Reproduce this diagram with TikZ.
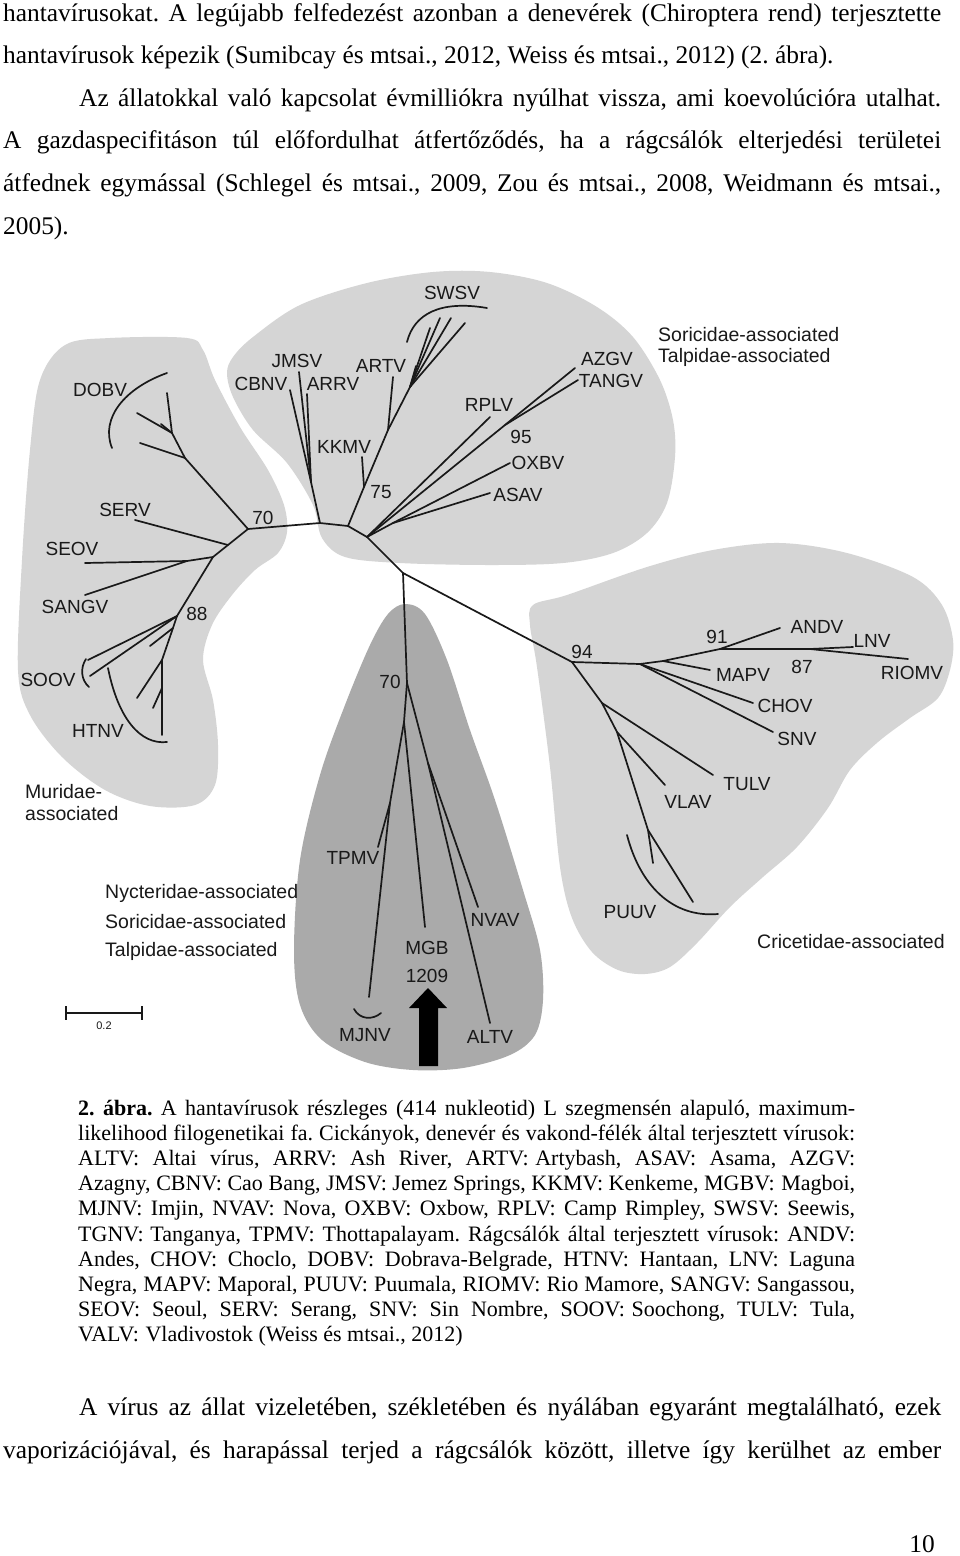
\documentclass[tikz,border=0pt]{standalone}
\usepackage{fontspec}
\setmainfont{Liberation Serif}
\newfontfamily\labfam{Liberation Sans}
\frenchspacing
\definecolor{lgray}{RGB}{213,213,213}
\definecolor{dgray}{RGB}{170,170,170}
\definecolor{ink}{RGB}{25,25,25}
\newcommand\bodyf{\fontsize{25.4}{28}\selectfont}
\newcommand\capf{\fontsize{22}{25}\selectfont}
\newcommand\labf{\labfam\fontsize{19}{21}\selectfont}
\newcommand\grpf{\labfam\fontsize{19.5}{21}\selectfont}
\newcommand\fixsp{\hbox to 0.3em{}}
\tikzset{
  br/.style={line width=1.7pt, line cap=round, line join=round, ink},
  lab/.style={font=\labf, inner sep=0pt, text=ink},
  grp/.style={font=\grpf, inner sep=0pt, text=ink, anchor=west},
  bodyline/.style={font=\bodyf, inner sep=0pt, anchor=base west},
  capline/.style={font=\capf, inner sep=0pt, anchor=base west},
}
\begin{document}
\begin{tikzpicture}[x=1pt,y=-1pt]
\fill[white] (0,0) rectangle (960,1556);
\useasboundingbox (0,0) rectangle (960,1556);

% ---------------- body text (top) ----------------
\node[bodyline] (p1) at (3,21) {\makebox[938pt][s]{hantavírusokat. A legújabb felfedezést azonban a denevérek (Chiroptera rend) terjesztette}};
\node[bodyline] (p2) at (3,63.6) {hantavírusok képezik (Sumibcay és mtsai., 2012, Weiss és mtsai., 2012) (2. ábra).};
\node[bodyline] (p3) at (79,106.2) {\makebox[862pt][s]{Az állatokkal való kapcsolat évmilliókra nyúlhat vissza, ami koevolúcióra utalhat.}};
\node[bodyline] (p4) at (3,148.8) {\makebox[938pt][s]{A gazdaspecifitáson túl előfordulhat átfertőződés, ha a rágcsálók elterjedési területei}};
\node[bodyline] (p5) at (3,191.4) {\makebox[938pt][s]{átfednek egymással (Schlegel és mtsai., 2009, Zou és mtsai., 2008, Weidmann és mtsai.,}};
\node[bodyline] (p6) at (3,234) {2005).};

% ---------------- shaded regions ----------------
\fill[lgray] plot[smooth cycle, tension=0.55] coordinates {
 (40,380) (65,345) (110,338) (187,338) (203,350) (215,380) (240,427) (268,470)
 (284,505) (287,532) (278,553) (255,570) (232,595) (212,625) (203,660) (213,700)
 (218,745) (215,785) (195,805) (150,806) (105,790) (62,757) (30,715) (18,670)
 (22,560) (30,450)};
\fill[lgray] plot[smooth cycle, tension=0.55] coordinates {
 (233,357) (253,337) (300,305) (367,283) (433,272) (490,272) (547,283) (597,307)
 (633,337) (660,380) (673,420) (675,457) (667,503) (647,533) (613,553) (563,563)
 (490,565) (400,563) (345,557) (322,538) (313,505) (287,463) (253,430) (233,397)
 (227,373)};
\fill[lgray] plot[smooth cycle, tension=0.55] coordinates {
 (533,605) (567,595) (647,567) (713,550) (780,543) (847,553) (913,577) (942,605)
 (953,640) (950,670) (938,698) (910,718) (878,742) (850,770) (828,808) (797,847)
 (763,877) (730,907) (697,943) (670,967) (645,974) (618,970) (592,952) (572,918)
 (560,867) (550,767) (537,667) (530,625)};
\fill[dgray] plot[smooth cycle, tension=0.55] coordinates {
 (405,604) (425,614) (447,660) (470,730) (495,800) (523,890) (540,950) (543,1000)
 (535,1035) (510,1055) (463,1068) (413,1070) (365,1062) (322,1040) (300,1005)
 (294,950) (300,860) (320,775) (345,705) (370,645) (388,614)};

% ---------------- tree: coordinates ----------------
\coordinate (n70a) at (248,529);
\coordinate (nJ) at (320,523);
\coordinate (nK) at (348,526);
\coordinate (nL) at (367,537);
\coordinate (nM) at (403,573);
\coordinate (nBA) at (407,683);
\coordinate (n94) at (572,662);
% Muridae
\coordinate (m1) at (185,458);
\coordinate (m2) at (172,433);
\coordinate (d1) at (140,443);
\coordinate (d2) at (137,413);
\coordinate (d3) at (167,393);
\coordinate (d4) at (161,424);
\coordinate (m3) at (228,545);
\coordinate (serv) at (135,520);
\coordinate (m4) at (213,557);
\coordinate (m5) at (187,561);
\coordinate (seov) at (85,563);
\coordinate (sangv) at (85,595);
\coordinate (m88) at (177,616);
\coordinate (soo1) at (88,660);
\coordinate (soo2) at (90,676);
\coordinate (h0) at (173,628);
\coordinate (st) at (150,646);
\coordinate (h1) at (162,660);
\coordinate (h3) at (162,688);
\coordinate (h2) at (162,735);
\coordinate (ht1) at (137,698);
\coordinate (ht2) at (153,708);
% Soricidae / Talpidae
\coordinate (jt) at (311,482);
\coordinate (cbnv) at (290,390);
\coordinate (jmsv) at (299,372);
\coordinate (arrv) at (307,394);
\coordinate (k75) at (364,487);
\coordinate (kkmv) at (362,457);
\coordinate (ka) at (388,430);
\coordinate (artv) at (393,377);
\coordinate (ks) at (410,387);
\coordinate (sw0) at (416,366);
\coordinate (sw1) at (430,328);
\coordinate (sw2) at (440,318);
\coordinate (sw3) at (451,318);
\coordinate (sw4) at (465,323);
\coordinate (rplv) at (490,417);
\coordinate (a95) at (505,425);
\coordinate (azgv) at (575,368);
\coordinate (tangv) at (578,380);
\coordinate (ox1) at (393,523);
\coordinate (oxbv) at (510,463);
\coordinate (asav) at (490,493);
% bats
\coordinate (nBB) at (404,722);
\coordinate (tp) at (390,803);
\coordinate (tpmv) at (378,847);
\coordinate (mjnv) at (369,997);
\coordinate (mgb) at (425,927);
\coordinate (nv) at (428,763);
\coordinate (nvav) at (478,907);
\coordinate (altv) at (490,1023);
% Cricetidae
\coordinate (c1) at (640,664);
\coordinate (c2) at (663,661);
\coordinate (c91) at (720,649);
\coordinate (andv) at (780,628);
\coordinate (c87) at (810,649);
\coordinate (lnv) at (853,647);
\coordinate (riomv) at (908,659);
\coordinate (mapv) at (710,670);
\coordinate (chov) at (753,703);
\coordinate (snv) at (773,732);
\coordinate (t1) at (602,703);
\coordinate (tulv) at (713,775);
\coordinate (t2) at (617,732);
\coordinate (vlav) at (665,785);
\coordinate (t3) at (648,830);
\coordinate (puu1) at (653,863);
\coordinate (puu2) at (693,902);

% ---------------- tree: branches ----------------
\draw[br] (n70a) -- (nJ) -- (nK) -- (nL) -- (nM) -- (n94);
\draw[br] (nM) -- (nBA);
% Muridae
\draw[br] (n70a) -- (m1) -- (m2) -- (d3);
\draw[br] (m1) -- (d1);
\draw[br] (m2) -- (d2);
\draw[br] (m2) -- (d4);
\draw[br] (n70a) -- (m3) -- (m4) -- (m88);
\draw[br] (m3) -- (serv);
\draw[br] (m4) -- (m5) -- (seov);
\draw[br] (m5) -- (sangv);
\draw[br] (m88) -- (soo1);
\draw[br] (m88) -- (soo2);
\draw[br] (m88) -- (h0) -- (h1) -- (h3) -- (h2);
\draw[br] (h0) -- (st);
\draw[br] (h1) -- (ht1);
\draw[br] (h3) -- (ht2);
\draw[br] (112,448) .. controls (100,418) and (125,388) .. (167,373);
\draw[br] (86,659) .. controls (80,668) and (81,680) .. (89,687);
\draw[br] (108,668) .. controls (118,718) and (140,745) .. (167,742);
% Soricidae / Talpidae
\draw[br] (nJ) -- (jt) -- (cbnv);
\draw[br] (jt) -- (jmsv);
\draw[br] (jt) -- (arrv);
\draw[br] (nK) -- (k75) -- (ka) -- (ks);
\draw[br] (k75) -- (kkmv);
\draw[br] (ka) -- (artv);
\draw[br] (ks) -- (sw0);
\draw[br] (ks) -- (sw1);
\draw[br] (ks) -- (sw2);
\draw[br] (ks) -- (sw3);
\draw[br] (ks) -- (sw4);
\draw[br] (407,342) .. controls (414,314) and (440,300) .. (487,308);
\draw[br] (nL) -- (rplv);
\draw[br] (nL) -- (a95) -- (azgv);
\draw[br] (a95) -- (tangv);
\draw[br] (nL) -- (ox1) -- (oxbv);
\draw[br] (ox1) -- (asav);
% bats
\draw[br] (nBA) -- (nBB) -- (tp) -- (tpmv);
\draw[br] (tp) -- (mjnv);
\draw[br] (nBB) -- (mgb);
\draw[br] (nBA) -- (nv) -- (nvav);
\draw[br] (nv) -- (altv);
\draw[br] (354,1009) .. controls (360,1020) and (373,1020) .. (381,1013);
% Cricetidae
\draw[br] (n94) -- (c1) -- (c2) -- (c91) -- (c87) -- (lnv);
\draw[br] (c87) -- (riomv);
\draw[br] (c91) -- (andv);
\draw[br] (c2) -- (mapv);
\draw[br] (c1) -- (chov);
\draw[br] (c1) -- (snv);
\draw[br] (n94) -- (t1) -- (t2) -- (t3) -- (puu1);
\draw[br] (t3) -- (puu2);
\draw[br] (t1) -- (tulv);
\draw[br] (t2) -- (vlav);
\draw[br] (627,835) .. controls (640,885) and (672,918) .. (718,914);

% arrow
\fill[black] (428,988) -- (447,1008) -- (438,1008) -- (438,1066) -- (419,1066) -- (419,1008) -- (409,1008) -- cycle;

% scale bar
\coordinate (sb1) at (66,1013);
\coordinate (sb2) at (142,1013);
\draw[line width=1.5pt, ink] (sb1) -- (sb2);
\draw[line width=1.5pt, ink] (66,1006) -- (66,1020);
\draw[line width=1.5pt, ink] (142,1006) -- (142,1020);
\node[inner sep=0pt, font=\labfam\fontsize{11}{12}\selectfont, text=ink] (sbl) at (104,1026) {0.2};

% ---------------- labels ----------------
\node[lab] (lDOBV) at (100,390) {DOBV};
\node[lab] (lSERV) at (125,510) {SERV};
\node[lab] (lSEOV) at (72,549) {SEOV};
\node[lab] (lSANGV) at (75,607) {SANGV};
\node[lab] (l88) at (197,614) {88};
\node[lab] (l70a) at (263,518) {70};
\node[lab] (lSOOV) at (48,680) {SOOV};
\node[lab] (lHTNV) at (98,731) {HTNV};
\node[lab] (lJMSV) at (297,361) {JMSV};
\node[lab] (lCBNV) at (261,384) {CBNV};
\node[lab] (lARRV) at (333,384) {ARRV};
\node[lab] (lARTV) at (381,366) {ARTV};
\node[lab] (lKKMV) at (344,447) {KKMV};
\node[lab] (l75) at (381,492) {75};
\node[lab] (lSWSV) at (452,293) {SWSV};
\node[lab] (lRPLV) at (489,405) {RPLV};
\node[lab] (lAZGV) at (607,359) {AZGV};
\node[lab] (lTANGV) at (611,381) {TANGV};
\node[lab] (l95) at (521,437) {95};
\node[lab] (lOXBV) at (538,463) {OXBV};
\node[lab] (lASAV) at (518,495) {ASAV};
\node[lab] (l70b) at (390,682) {70};
\node[lab] (lTPMV) at (353,858) {TPMV};
\node[lab] (lMJNV) at (365,1035) {MJNV};
\node[lab] (lMGB) at (427,948) {MGB};
\node[lab] (l1209) at (427,976) {1209};
\node[lab] (lNVAV) at (495,920) {NVAV};
\node[lab] (lALTV) at (490,1037) {ALTV};
\node[lab] (l94) at (582,652) {94};
\node[lab] (l91) at (717,637) {91};
\node[lab] (lANDV) at (817,627) {ANDV};
\node[lab] (lLNV) at (872,641) {LNV};
\node[lab] (l87) at (802,667) {87};
\node[lab] (lRIOMV) at (912,673) {RIOMV};
\node[lab] (lMAPV) at (743,675) {MAPV};
\node[lab] (lCHOV) at (785,706) {CHOV};
\node[lab] (lSNV) at (797,739) {SNV};
\node[lab] (lTULV) at (747,784) {TULV};
\node[lab] (lVLAV) at (688,802) {VLAV};
\node[lab] (lPUUV) at (630,912) {PUUV};

\node[grp] (g1) at (658,335) {Soricidae-associated};
\node[grp] (g2) at (658,357) {Talpidae-associated};
\node[grp] (g3) at (25,792) {Muridae-};
\node[grp] (g4) at (25,814) {associated};
\node[grp] (g5) at (105,893) {Nycteridae-associated};
\node[grp] (g6) at (105,922) {Soricidae-associated};
\node[grp] (g7) at (105,951) {Talpidae-associated};
\node[grp] (g8) at (757,942) {Cricetidae-associated};

% ---------------- caption ----------------
\node[capline] (c01) at (78,1115) {\makebox[777pt][s]{\textbf{2. ábra.} A hantavírusok részleges (414 nukleotid) L szegmensén alapuló, maximum-}};
\node[capline] (c02) at (78,1140.2) {\makebox[777pt][s]{likelihood filogenetikai fa. Cickányok, denevér és vakond-félék által terjesztett vírusok:}};
\node[capline] (c03) at (78,1165.4) {\makebox[777pt][s]{ALTV: Altai vírus, ARRV: Ash River, ARTV:\fixsp Artybash, ASAV: Asama, AZGV:}};
\node[capline] (c04) at (78,1190.6) {\makebox[777pt][s]{Azagny, CBNV: Cao Bang, JMSV: Jemez Springs, KKMV: Kenkeme, MGBV:\fixsp Magboi,}};
\node[capline] (c05) at (78,1215.8) {\makebox[777pt][s]{MJNV: Imjin, NVAV: Nova, OXBV: Oxbow, RPLV: Camp Rimpley, SWSV: Seewis,}};
\node[capline] (c06) at (78,1241) {\makebox[777pt][s]{TGNV:\fixsp Tanganya, TPMV: Thottapalayam. Rágcsálók által terjesztett vírusok: ANDV:}};
\node[capline] (c07) at (78,1266.2) {\makebox[777pt][s]{Andes, CHOV: Choclo, DOBV: Dobrava-Belgrade, HTNV: Hantaan, LNV: Laguna}};
\node[capline] (c08) at (78,1291.4) {\makebox[777pt][s]{Negra, MAPV: Maporal, PUUV: Puumala, RIOMV: Rio Mamore, SANGV: Sangassou,}};
\node[capline] (c09) at (78,1316.6) {\makebox[777pt][s]{SEOV: Seoul, SERV: Serang, SNV: Sin Nombre, SOOV:\fixsp Soochong, TULV: Tula,}};
\node[capline] (c10) at (78,1341.8) {VALV:\fixsp Vladivostok (Weiss és mtsai., 2012)};

% ---------------- body text (bottom) ----------------
\node[bodyline] (q1) at (79,1415) {\makebox[862pt][s]{A vírus az állat vizeletében, székletében és nyálában egyaránt megtalálható, ezek}};
\node[bodyline] (q2) at (3,1458) {\makebox[938pt][s]{vaporizációjával, és harapással terjed a rágcsálók között, illetve így kerülhet az ember}};
\node[font=\bodyf, inner sep=0pt, anchor=base east] (pg) at (935,1552) {10};
\end{tikzpicture}
\end{document}
